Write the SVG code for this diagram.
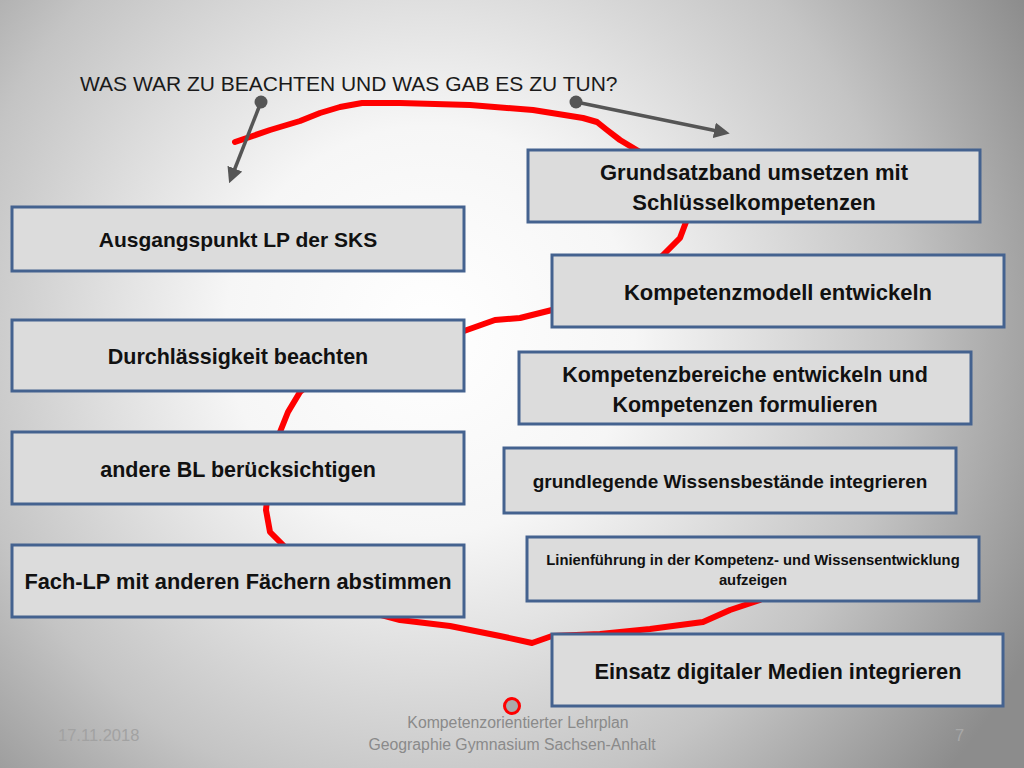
<svg xmlns="http://www.w3.org/2000/svg" width="1024" height="768" viewBox="0 0 1024 768">
<defs>
<radialGradient id="bg" gradientUnits="userSpaceOnUse" cx="430" cy="330" r="680">
<stop offset="0" stop-color="#ffffff"/>
<stop offset="0.3" stop-color="#f6f6f6"/>
<stop offset="0.7" stop-color="#c4c4c4"/>
<stop offset="1" stop-color="#8c8c8c"/>
</radialGradient>
<marker id="ah" viewBox="0 0 10 10" refX="5" refY="5" markerWidth="4.5" markerHeight="4.5" orient="auto" markerUnits="strokeWidth">
<path d="M0,0 L10,5 L0,10 z" fill="#555555"/>
</marker>
</defs>
<style>
.box{fill:#dcdcdc;stroke:#44628f;stroke-width:3}
.t{font-family:"Liberation Sans","Open Sans",sans-serif;font-weight:bold;fill:#111111;text-anchor:middle}
.red{fill:none;stroke:#ff0000;stroke-width:6;stroke-linecap:round;stroke-linejoin:round}
.arr{stroke:#555555;stroke-width:3.5;fill:none}
.foot{font-family:"Liberation Sans","Open Sans",sans-serif;font-size:15.8px;fill:#8a8a8a;text-anchor:middle}
</style>
<rect x="0" y="0" width="1024" height="768" fill="url(#bg)"/>
<text x="80" y="91" font-family="Liberation Sans, Open Sans, sans-serif" font-size="21" fill="#1a1a1a">WAS WAR ZU BEACHTEN UND WAS GAB ES ZU TUN?</text>
<g id="connectors">
<path class="red" d="M235,142 L270,130 L300,121 L320,113 L340,107 L362,103 L400,103 L470,105 L533,110 L583,118 L597,122 L607,130 L620,140 L640,152 L670,180 L686,205 L686,222 L680,238 L662,256 L640,275 L600,300 L552,310 L520,318 L495,320 L464,331 L420,340 L360,355 L320,375 L300,392 L288,412 L280,432 L275,460 L268,490 L266,510 L270,532 L283,545 L300,570 L330,600 L370,612 L400,620 L450,626 L500,636 L532,643 L552,636 L600,634 L650,629 L703,622 L730,610 L760,600"/>
<path class="arr" d="M261,102 L232,176" marker-end="url(#ah)"/>
<circle cx="261" cy="102" r="6.5" fill="#555555"/>
<path class="arr" d="M576,102 L722,132" marker-end="url(#ah)"/>
<circle cx="576" cy="102" r="6.5" fill="#555555"/>
</g>
<g id="n1"><rect class="box" x="528" y="150" width="452" height="72"/>
<text class="t" font-size="22" x="754" y="180">Grundsatzband umsetzen mit</text>
<text class="t" font-size="22" x="754" y="210">Schlüsselkompetenzen</text></g>
<g id="n2"><rect class="box" x="12" y="207" width="452" height="64"/>
<text class="t" font-size="21" x="238" y="247">Ausgangspunkt LP der SKS</text></g>
<g id="n3"><rect class="box" x="552" y="255" width="452" height="72"/>
<text class="t" font-size="22" x="778" y="300">Kompetenzmodell entwickeln</text></g>
<g id="n4"><rect class="box" x="12" y="320" width="452" height="71"/>
<text class="t" font-size="21.5" x="238" y="364">Durchlässigkeit beachten</text></g>
<g id="n5"><rect class="box" x="519" y="352" width="452" height="72"/>
<text class="t" font-size="21.5" x="745" y="382">Kompetenzbereiche entwickeln und</text>
<text class="t" font-size="21.5" x="745" y="412">Kompetenzen formulieren</text></g>
<g id="n6"><rect class="box" x="12" y="432" width="452" height="72"/>
<text class="t" font-size="21.5" x="238" y="477">andere BL berücksichtigen</text></g>
<g id="n7"><rect class="box" x="504" y="448" width="452" height="65"/>
<text class="t" font-size="19" x="730" y="488">grundlegende Wissensbestände integrieren</text></g>
<g id="n8"><rect class="box" x="527" y="537" width="452" height="64"/>
<text class="t" font-size="14.8" x="753" y="565">Linienführung in der Kompetenz- und Wissensentwicklung</text>
<text class="t" font-size="14.8" x="753" y="585">aufzeigen</text></g>
<g id="n9"><rect class="box" x="12" y="545" width="452" height="72"/>
<text class="t" font-size="21.8" x="238" y="589">Fach-LP mit anderen Fächern abstimmen</text></g>
<g id="n10"><rect class="box" x="552" y="634" width="451" height="72"/>
<text class="t" font-size="21.8" x="778" y="679">Einsatz digitaler Medien integrieren</text></g>
<circle cx="512" cy="706" r="7.5" fill="#aaaaaa" stroke="#ff0000" stroke-width="3"/>
<text class="foot" x="518" y="728">Kompetenzorientierter Lehrplan</text>
<text class="foot" x="512" y="750">Geographie Gymnasium Sachsen-Anhalt</text>
<text x="58" y="741" font-family="Liberation Sans, Open Sans, sans-serif" font-size="16.5" fill="#a2a2a2">17.11.2018</text>
<text x="955" y="741" font-family="Liberation Sans, Open Sans, sans-serif" font-size="16.5" fill="#a8a8a8">7</text>
</svg>
